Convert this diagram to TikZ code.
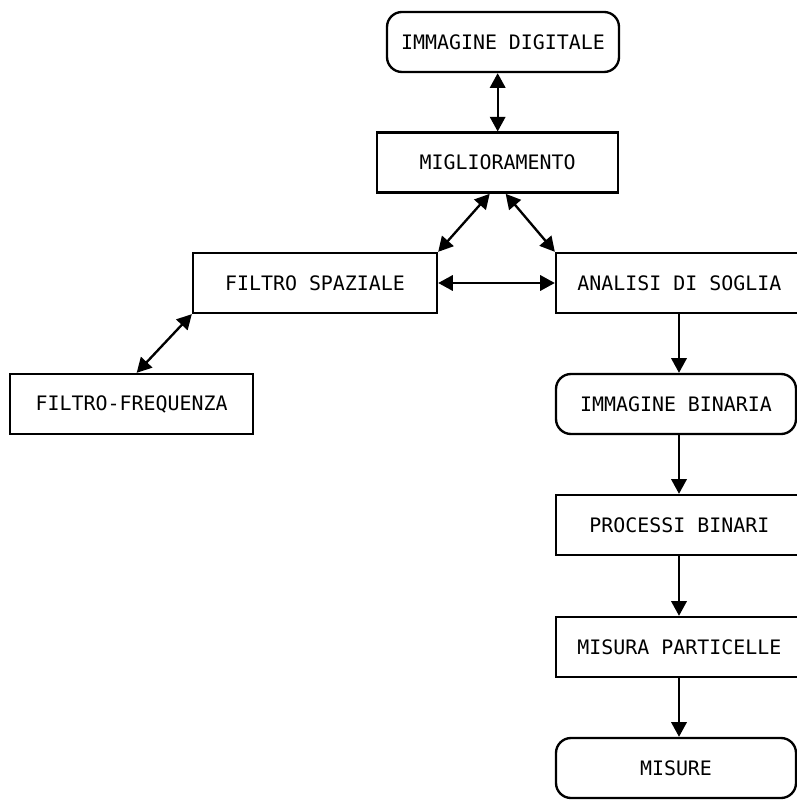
\documentclass[tikz,border=0pt]{standalone}
\usepackage{fontspec}
\setmonofont{DejaVu Sans Mono}
\usetikzlibrary{arrows.meta}

\begin{document}
\begin{tikzpicture}[
          every node/.style={font=\ttfamily\fontsize{17}{20}\selectfont},
          blk/.style={draw, line width=2pt, fill=white,
              minimum width=7.3cm, minimum height=1.8cm},
          rblk/.style={blk, rounded corners=0.45cm},
          link/.style={line width=2pt,
              -{Triangle[length=0.44cm, width=0.46cm]}},
          blink/.style={link,
              {Triangle[length=0.44cm, width=0.46cm]}-{Triangle[length=0.44cm, width=0.46cm]}}]
        % Flow: digital image -> enhancement -> spatial filter / threshold,
        % then a binary chain down the right side.
        % Coordinates: (x,y) in cm, origin top left
        \useasboundingbox (0,0) rectangle (23.88,-24);
        \node[rblk, minimum width=6.96cm] (DIG) at (15.09,-1.26) {IMMAGINE DIGITALE};
        \node[blk, minimum width=7.23cm] (MIG) at (14.93,-4.88) {MIGLIORAMENTO};
        \node[blk, minimum width=7.32cm] (SPA) at (9.45,-8.49) {FILTRO SPAZIALE};
        \node[blk, minimum width=7.4cm] (ANA) at (20.38,-8.49) {ANALISI DI SOGLIA};
        \node[blk, minimum width=7.29cm] (FRQ) at (3.95,-12.12) {FILTRO-FREQUENZA};
        \node[rblk, minimum width=7.2cm] (BIN) at (20.28,-12.12) {IMMAGINE BINARIA};
        \node[blk, minimum width=7.4cm] (PRO) at (20.38,-15.75) {PROCESSI BINARI};
        \node[blk, minimum width=7.4cm] (PAR) at (20.38,-19.41) {MISURA PARTICELLE};
        \node[rblk, minimum width=7.2cm] (MIS) at (20.28,-23.04) {MISURE};
        \draw[blink] (MIG.north) -- (MIG.north |- DIG.south);
        \draw[blink] ([xshift=-0.24cm]MIG.south) -- (SPA.north east);
        \draw[blink] ([xshift=0.24cm]MIG.south) -- (ANA.north west);
        \draw[blink] (SPA.east) -- (ANA.west);
        \draw[blink] (SPA.south west) -- ([xshift=0.15cm]FRQ.north);
        \draw[link] ([xshift=0.09cm]BIN.north |- ANA.south) -- ([xshift=0.09cm]BIN.north);
        \draw[link] ([xshift=0.09cm]BIN.south) -- ([xshift=0.09cm]BIN.south |- PRO.north);
        \draw[link] ([xshift=0.09cm]BIN.south |- PRO.south) -- ([xshift=0.09cm]BIN.south |- PAR.north);
        \draw[link] ([xshift=0.09cm]BIN.south |- PAR.south) -- ([xshift=0.09cm]MIS.north);
      \end{tikzpicture}
\end{document}
